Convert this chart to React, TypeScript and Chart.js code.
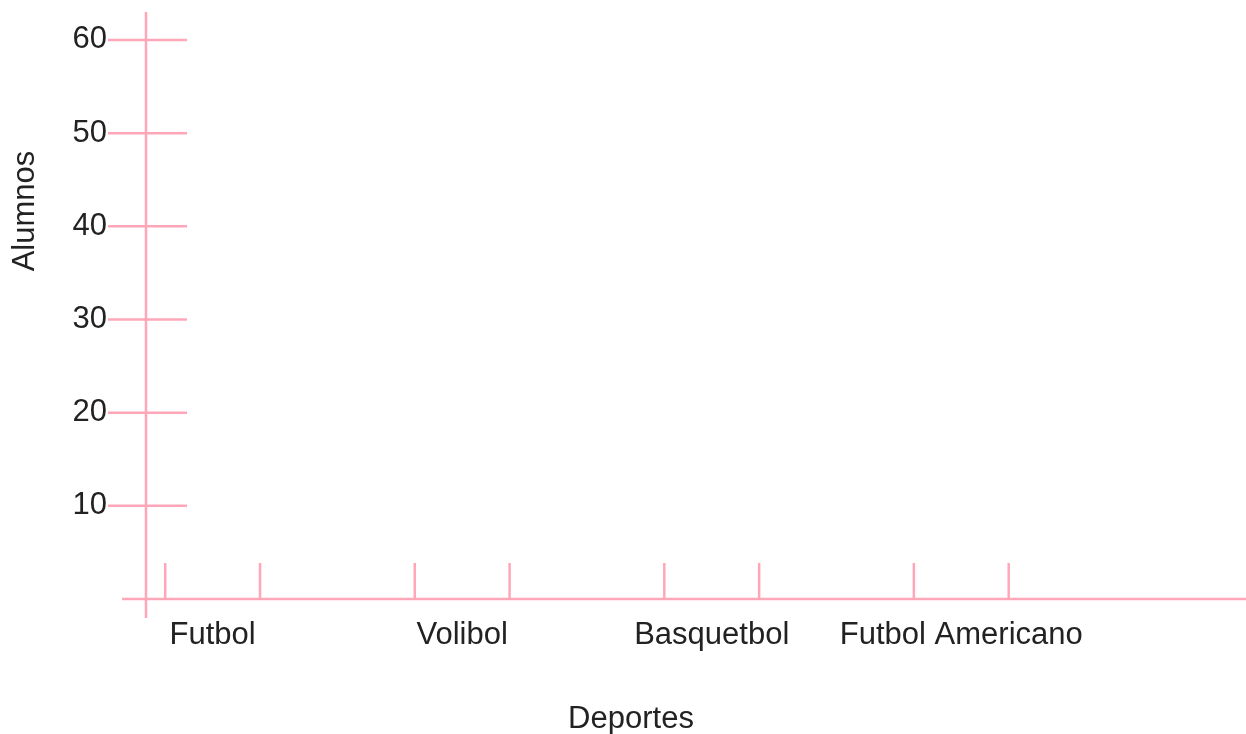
import React, { useEffect, useRef } from 'react';
import { Chart, registerables } from 'chart.js';

Chart.register(...registerables);

// ---- data (blank template: no student counts filled in yet) ----
const categories = ['Futbol', 'Volibol', 'Basquetbol', 'Futbol Americano'];
const alumnos = [0, 0, 0, 0];
const yTickValues = [10, 20, 30, 40, 50, 60];
const yMax = 63;
const xTitle = 'Deportes';
const yTitle = 'Alumnos';

// ---- style ----
const PINK = '#ffa7b8';
const TEXT = '#222222';
const FONT = "'Liberation Sans', Arial, Helvetica, sans-serif";
const FONT_SIZE = 31;

const sketchAxes = {
  id: 'sketchAxes',
  afterDatasetsDraw(chart: any) {
    const { ctx, chartArea, scales } = chart;
    const xs = scales.x;
    const ys = scales.y;
    const x0 = xs.left;
    const y0 = ys.getPixelForValue(0);
    const line = (ax: number, ay: number, bx: number, by: number) => {
      ctx.beginPath();
      ctx.moveTo(ax, ay);
      ctx.lineTo(bx, by);
      ctx.stroke();
    };
    ctx.save();
    ctx.strokeStyle = PINK;
    ctx.lineWidth = 2.5;
    // y axis line (extends a little below the x axis)
    line(x0, chartArea.top, x0, y0 + 19);
    // x axis line (extends a little left of the y axis, to the right edge)
    line(x0 - 24, y0, chart.width, y0);
    // y tick marks crossing the axis
    ys.ticks.forEach((t: any) => {
      const py = ys.getPixelForValue(t.value);
      line(x0 - 38, py, x0 + 41, py);
    });
    // bar edge marks (where each bar would go)
    const meta = chart.getDatasetMeta(0);
    meta.data.forEach((bar: any) => {
      const { x, width } = bar.getProps(['x', 'width'], true);
      [x - width / 2, x + width / 2].forEach((ex) => line(ex, y0, ex, y0 - 36));
    });
    ctx.restore();

    // y axis title
    ctx.save();
    ctx.fillStyle = TEXT;
    ctx.font = `${FONT_SIZE}px ${FONT}`;
    ctx.translate(34, 211);
    ctx.rotate(-Math.PI / 2);
    ctx.textAlign = 'center';
    ctx.textBaseline = 'alphabetic';
    ctx.fillText(yTitle, 0, 0);
    ctx.restore();
  },
};

export default function App() {
  const ref = useRef<HTMLCanvasElement>(null);

  useEffect(() => {
    const chart = new Chart(ref.current as HTMLCanvasElement, {
      type: 'bar',
      data: {
        datasets: [
          {
            label: yTitle,
            data: alumnos.map((v, i) => ({ x: i + 1, y: v })),
            backgroundColor: PINK,
            borderWidth: 0,
            barPercentage: 0.38,
            categoryPercentage: 1,
          } as any,
        ],
      },
      options: {
        animation: false,
        responsive: false,
        devicePixelRatio: 1,
        layout: { padding: { top: 12, right: 130, left: 0, bottom: 0 } },
        plugins: {
          legend: { display: false },
          tooltip: { enabled: false },
        },
        scales: {
          x: {
            type: 'linear',
            offset: false,
            min: 0.733,
            max: 4.62,
            grid: { display: false, drawTicks: false, offset: false },
            border: { display: false },
            afterBuildTicks: (scale: any) => {
              scale.ticks = categories.map((_, i) => ({ value: i + 1 }));
            },
            afterFit: (scale: any) => {
              scale.height = 135;
              scale.paddingLeft = 0;
              scale.paddingRight = 0;
            },
            ticks: {
              autoSkip: false,
              maxRotation: 0,
              minRotation: 0,
              padding: 18,
              color: TEXT,
              font: { family: FONT, size: FONT_SIZE },
              callback: (value: any) => categories[Number(value) - 1] ?? '',
            },
            title: {
              display: true,
              text: xTitle,
              color: TEXT,
              font: { family: FONT, size: FONT_SIZE },
              padding: { top: 0, bottom: -4 },
            },
          },
          y: {
            type: 'linear',
            min: 0,
            max: yMax,
            grid: { display: false, drawTicks: true, tickLength: 38 },
            border: { display: false },
            afterBuildTicks: (scale: any) => {
              scale.ticks = yTickValues.map((v) => ({ value: v }));
            },
            afterFit: (scale: any) => {
              scale.width = 146;
              scale.paddingTop = 0;
              scale.paddingBottom = 0;
            },
            ticks: {
              padding: 1,
              color: TEXT,
              font: { family: FONT, size: FONT_SIZE },
            },
            title: { display: false },
          },
        },
      },
      plugins: [sketchAxes],
    });
    return () => chart.destroy();
  }, []);

  return (
    <div style={{ position: 'absolute', left: 0, top: 0, width: 1246, height: 734, background: '#ffffff' }}>
      <canvas ref={ref} width={1246} height={734} style={{ display: 'block' }} />
    </div>
  );
}
